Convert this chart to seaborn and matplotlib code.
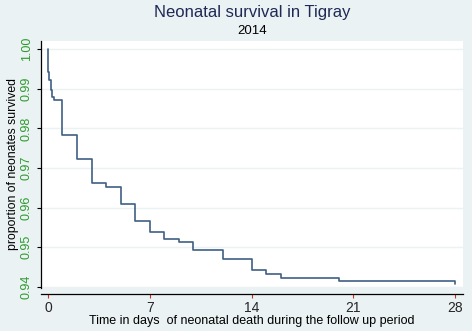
import matplotlib
matplotlib.use("Agg")
import matplotlib.pyplot as plt
import seaborn as sns
import pandas as pd

# Kaplan-Meier step data (time in days, survival proportion)
times = [0, 0.01, 0.10, 0.21, 0.30, 0.42, 1.0, 2.0, 3.0, 4.0, 5.0, 6.0, 7.0,
         8.0, 9.0, 10.0, 12.0, 14.0, 15.0, 16.0, 20.0, 28.0]
survival = [1.0, 0.9943, 0.9922, 0.9897, 0.9880, 0.9871, 0.9783, 0.9722, 0.9662,
            0.9652, 0.9608, 0.9566, 0.9538, 0.9520, 0.9514, 0.9494, 0.9469,
            0.9441, 0.9433, 0.9422, 0.9414, 0.9406]
x_ticks = [0, 7, 14, 21, 28]
y_ticks = [0.94, 0.95, 0.96, 0.97, 0.98, 0.99, 1.00]
y_tick_labels = ["0.94", "0.95", "0.96", "0.97", "0.98", "0.99", "1.00"]

df = pd.DataFrame({"time": times, "surv": survival})

sns.set_style("white")
plt.rcParams["font.family"] = ["Liberation Sans", "DejaVu Sans"]

bg = "#eaf2f3"
fig = plt.figure(figsize=(4.72, 3.31), dpi=100, facecolor=bg)
ax = fig.add_axes([41 / 472, 1 - 288 / 331, (463 - 41) / 472, (288 - 41) / 331])
ax.set_facecolor("white")

sns.lineplot(data=df, x="time", y="surv", drawstyle="steps-post", color="#3f5f84",
             linewidth=1.2, ax=ax, estimator=None)

ax.set_xlim(-0.475, 28.53)
ax.set_ylim(0.93967, 1.0021)

for y in y_ticks:
    ax.axhline(y, color=bg, linewidth=1.0, zorder=0)

ax.set_yticks(y_ticks)
ax.set_yticklabels(y_tick_labels, rotation=90, va="center", color="#2e9a2e", fontsize=9)
ax.set_xticks(x_ticks)
ax.set_xticklabels([str(t) for t in x_ticks], fontsize=9.5, color="black")

ax.tick_params(axis="y", direction="out", length=3, width=0.8, color="black", pad=3, left=True)
ax.tick_params(axis="x", direction="out", length=3, width=0.8, color="#d03020", pad=2.5, bottom=True)

for s in ["top", "right"]:
    ax.spines[s].set_visible(False)
ax.spines["left"].set_color("black")
ax.spines["left"].set_linewidth(0.9)
ax.spines["bottom"].set_color("black")
ax.spines["bottom"].set_linewidth(0.9)
ax.spines["bottom"].set_position(("outward", 4.2))

ax.set_xlabel("Time in days  of neonatal death during the follow up period", fontsize=9,
              labelpad=0, color="black")
ax.set_ylabel("proportion of neonates survived", fontsize=8.8, labelpad=1.5, color="black")

fig.text((41 + 463) / 2 / 472, 1 - 13 / 331, "Neonatal survival in Tigray", ha="center",
         va="center", fontsize=12, color="#1e2a55")
fig.text((41 + 463) / 2 / 472, 1 - 31.5 / 331, "2014", ha="center", va="center",
         fontsize=9.5, color="black")

fig.savefig("out.png", dpi=100, facecolor=bg)
